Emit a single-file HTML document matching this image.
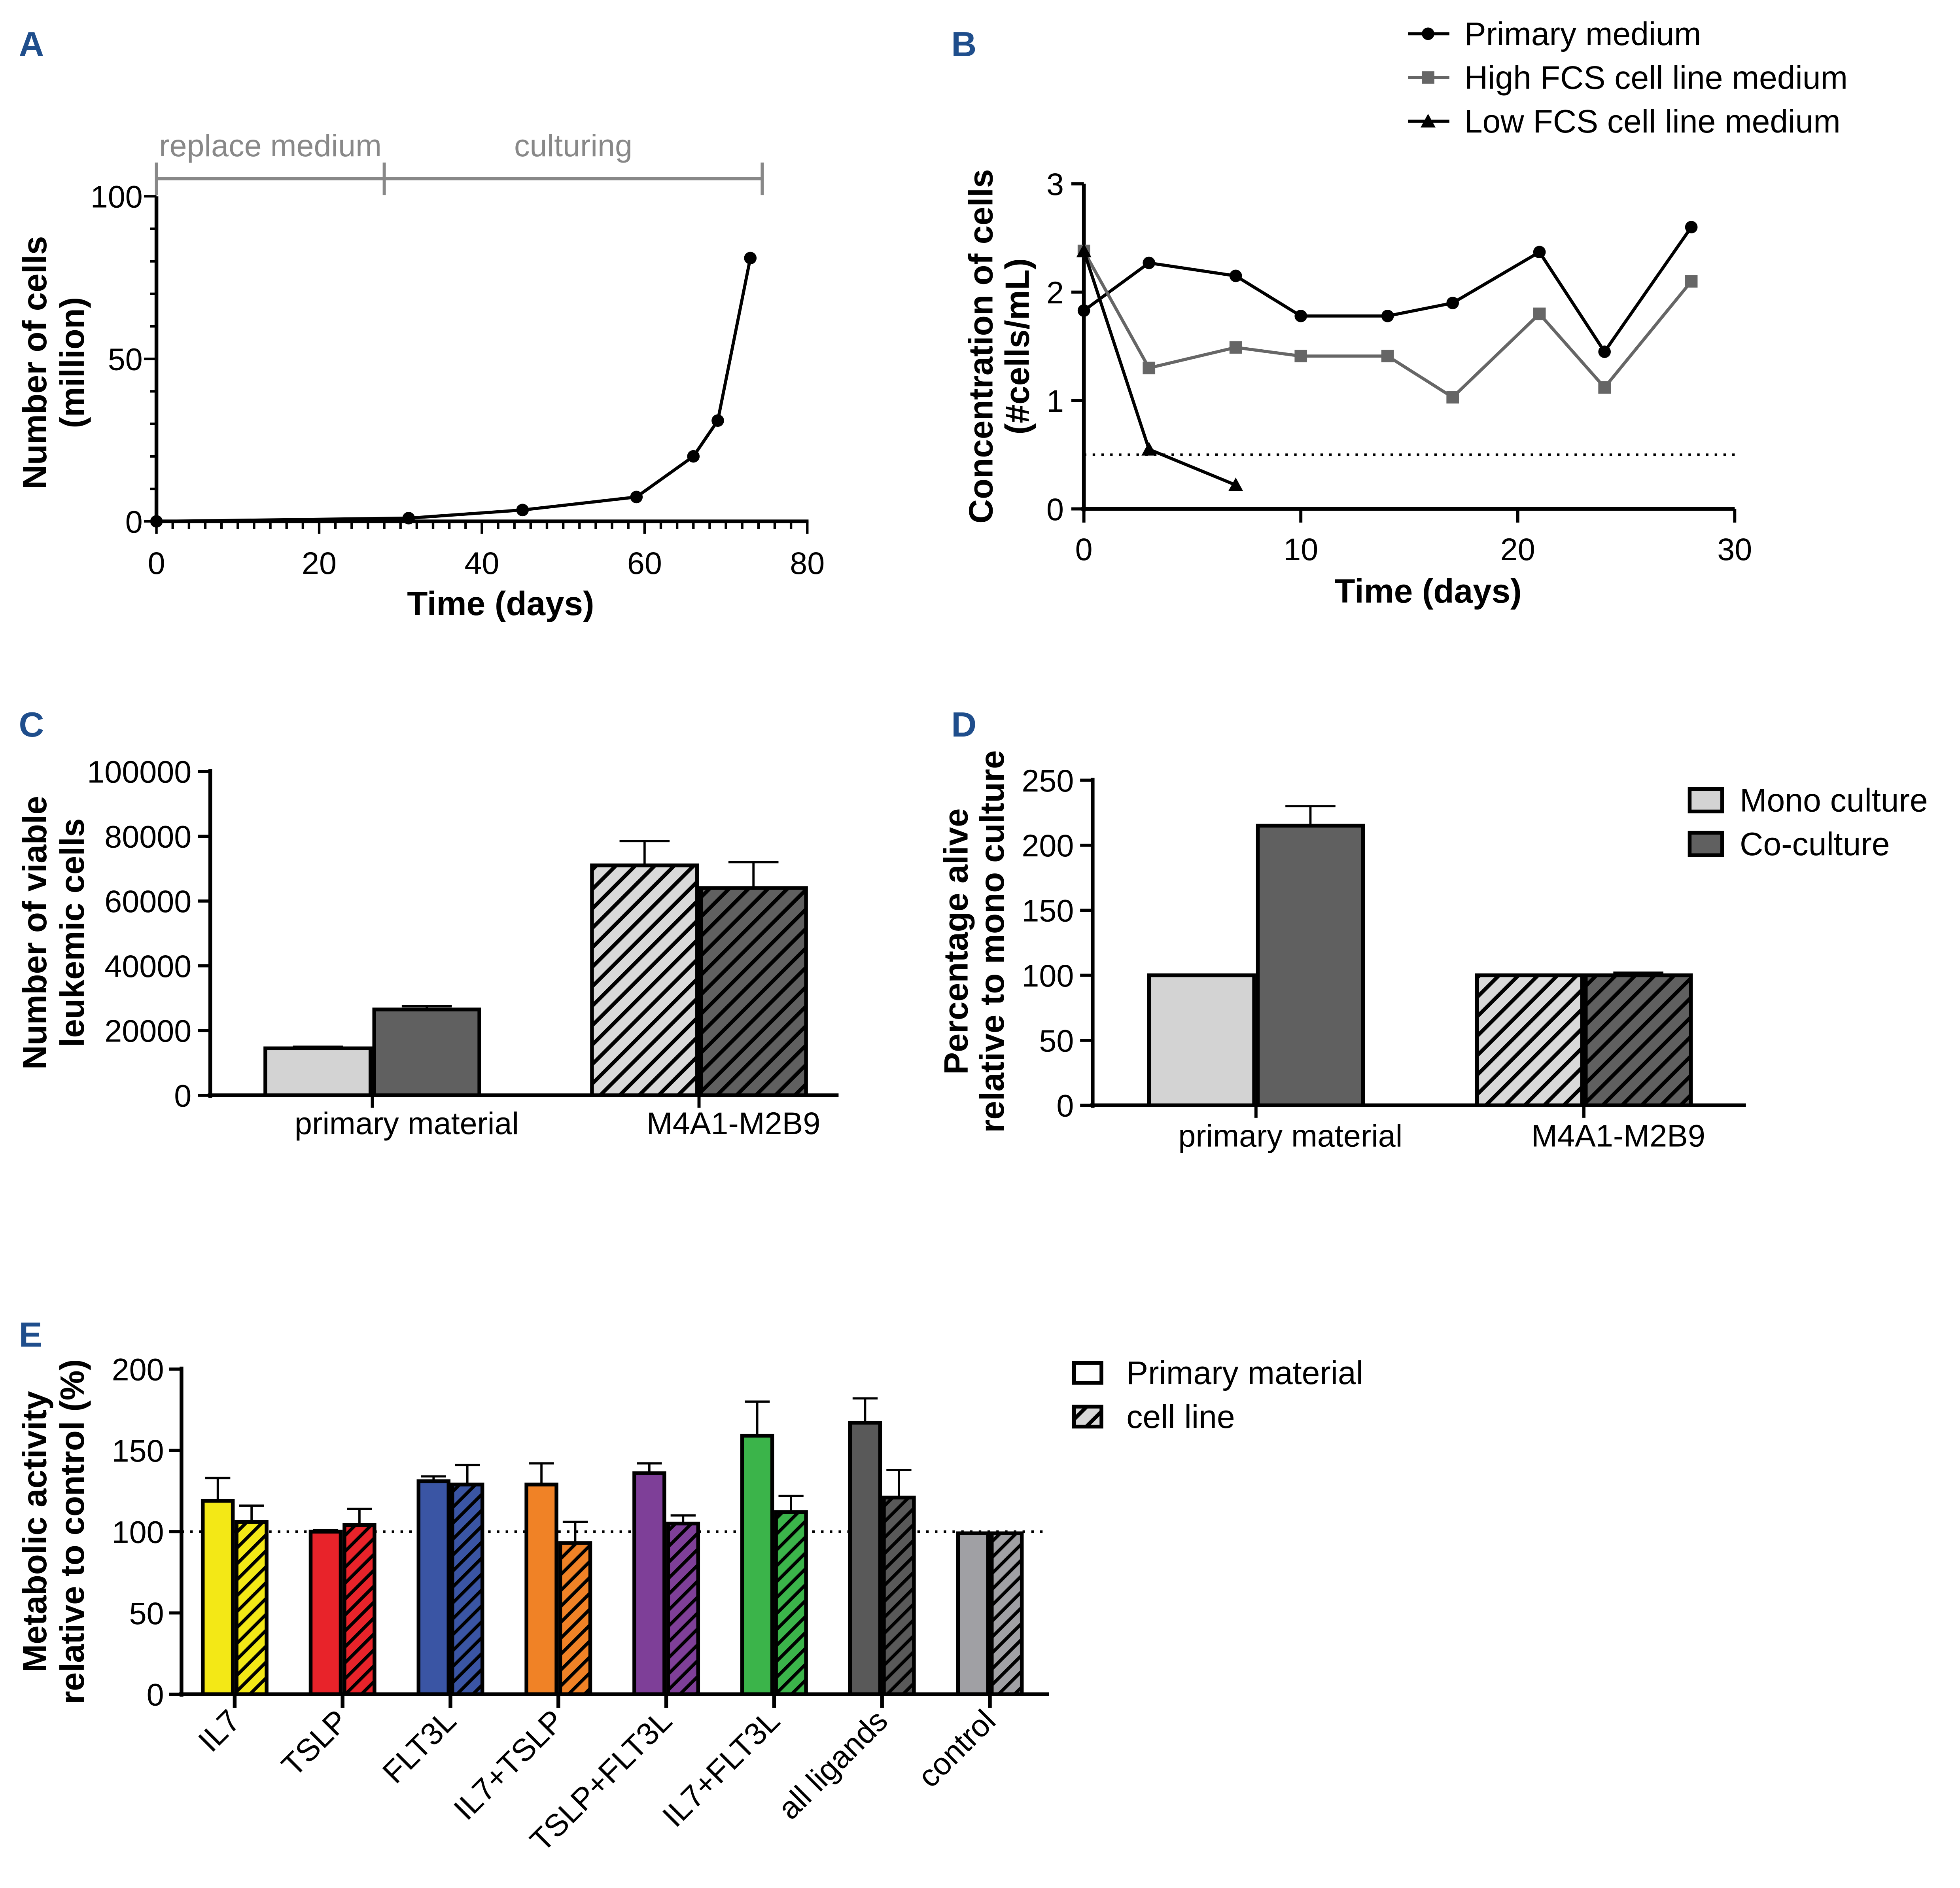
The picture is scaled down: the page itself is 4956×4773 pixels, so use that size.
<!DOCTYPE html>
<html><head><meta charset="utf-8"><style>
html,body{margin:0;padding:0;background:#fff}
svg{display:block}
text{font-family:"Liberation Sans",Arial,sans-serif;fill:#000}
</style></head><body>
<svg id="fig" xmlns="http://www.w3.org/2000/svg" width="4956" height="4773" viewBox="0 0 1566 1510" preserveAspectRatio="none">
<defs>
<pattern id="hl" patternUnits="userSpaceOnUse" width="11" height="11" patternTransform="rotate(45)"><rect width="11" height="11" fill="#d9d9d9"/><rect width="3" height="11" fill="#000"/></pattern>
<pattern id="hd" patternUnits="userSpaceOnUse" width="11" height="11" patternTransform="rotate(45)"><rect width="11" height="11" fill="#606060"/><rect width="3" height="11" fill="#000"/></pattern>
</defs>
<g id="root"></g>
</svg>
<script>
// Panel A data
const aDays=[0,31,45,59,66,69,73];
const aCells=[0,1,3.5,7.5,20,31,81];
const aXTicks=[0,20,40,60,80];
const aYTicks=[0,50,100];
// Panel B data
const bPrimDays=[0,3,7,10,14,17,21,24,28];
const bPrim=[1.83,2.27,2.15,1.78,1.78,1.9,2.37,1.45,2.6];
const bHighDays=[0,3,7,10,14,17,21,24,28];
const bHigh=[2.38,1.3,1.49,1.41,1.41,1.03,1.8,1.12,2.1];
const bLowDays=[0,3,7];
const bLow=[2.38,0.55,0.22];
const bXTicks=[0,10,20,30];
const bYTicks=[0,1,2,3];
// Panel C data
const cCats=["primary material","M4A1-M2B9"];
const cMono=[14500,71000];
const cMonoErr=[15000,78500];
const cCo=[26500,64000];
const cCoErr=[27500,72000];
const cYTicks=[0,20000,40000,60000,80000,100000];
// Panel D data
const dCats=["primary material","M4A1-M2B9"];
const dMono=[100,100];
const dMonoErr=[100,100];
const dCo=[215,100];
const dCoErr=[230,102];
const dYTicks=[0,50,100,150,200,250];
// Panel E data
const eCats=["IL7","TSLP","FLT3L","IL7+TSLP","TSLP+FLT3L","IL7+FLT3L","all ligands","control"];
const ePrim=[119,100,131,129,136,159,167,99];
const ePrimErr=[133,101,134,142,142,180,182,99];
const eCell=[106,104,129,93,105,112,121,99];
const eCellErr=[116,114,141,106,110,122,138,99];
const eColors=["#f3e816","#e8232a","#3a55a4","#f08226","#7e3f98","#3bb44a","#595959","#a0a0a4"];
const eYTicks=[0,50,100,150,200];

const TK=25, TT=27, LG=26;
const NS="http://www.w3.org/2000/svg";
const root=document.getElementById('root');
function mk(tag,attrs,parent){const e=document.createElementNS(NS,tag);for(const k in attrs)e.setAttribute(k,attrs[k]);(parent||root).appendChild(e);return e;}
function txt(s,x,y,size,opts,parent){const e=mk('text',Object.assign({x:x,y:y,'font-size':size},opts||{}),parent);e.textContent=String(s);return e;}
function line(x1,y1,x2,y2,w,col,parent,dash){const a={x1:x1,y1:y1,x2:x2,y2:y2,stroke:col||'#000','stroke-width':w||2.5};if(dash)a['stroke-dasharray']=dash;return mk('line',a,parent);}

[["A",15,45],["B",760,45],["C",15,589],["D",760,589],["E",15,1077]].forEach(p=>{
 const t=txt(p[0],p[1],p[2],28,{'font-weight':'bold'});
 
 
 t.style.fill='#1f4e8c';
});

// ---------- Panel A ----------
(function(){
 const g=mk('g',{});
 
 
 const X=d=>125+d*6.5, Y=v=>417-v*2.6;
 line(125,157,125,419,3,'#000',g);
 line(123,417,646,417,3,'#000',g);
 for(let d=0;d<=80;d+=2){line(X(d),417,X(d),d%20===0?427:423,2,'#000',g);}
 for(let v=0;v<=100;v+=10){line(125,Y(v),v%50===0?115:120,Y(v),2,'#000',g);}
 aXTicks.forEach(t=>{const e=txt(t,X(t),459,TK,{'text-anchor':'middle'},g);
  
  });
 aYTicks.forEach(t=>{const e=txt(t,114,Y(t)+9,TK,{'text-anchor':'end'},g);
  
  });
 const pts=aDays.map((d,i)=>X(d)+','+Y(aCells[i])).join(' ');
 const pl=mk('polyline',{points:pts,fill:'none',stroke:'#000','stroke-width':2.5},g);
 
 
 aDays.forEach((d,i)=>{const c=mk('circle',{cx:X(d),cy:Y(aCells[i]),r:5,fill:'#000'},g);
  
  });
 line(125,143,609,143,2.5,'#888',g);
 [125,307,609].forEach(x=>line(x,130,x,156,2.5,'#888',g));
 let t=txt('replace medium',216,125,TK,{'text-anchor':'middle'},g);t.style.fill='#888';
 
 
 t=txt('culturing',458,125,TK,{'text-anchor':'middle'},g);t.style.fill='#888';
 
 
 t=txt('Time (days)',400,492,TT,{'text-anchor':'middle','font-weight':'bold'},g);
 
 
 t=txt('Number of cells',0,0,TT,{'text-anchor':'middle','font-weight':'bold',transform:'translate(37,290) rotate(-90)'},g);
 
 
 t=txt('(million)',0,0,TT,{'text-anchor':'middle','font-weight':'bold',transform:'translate(67,290) rotate(-90)'},g);
 
 
})();

// ---------- Panel B ----------
(function(){
 const g=mk('g',{});
 
 
 const X=d=>866+d*17.333, Y=v=>407-v*86.67;
 line(866,147,866,409,3,'#000',g);
 line(864,407,1386,407,3,'#000',g);
 bXTicks.forEach(t=>{line(X(t),407,X(t),418,2.5,'#000',g);const e=txt(t,X(t),448,TK,{'text-anchor':'middle'},g);
  
  });
 bYTicks.forEach(t=>{line(856,Y(t),866,Y(t),2.5,'#000',g);const e=txt(t,850,Y(t)+9,TK,{'text-anchor':'end'},g);
  
  });
 line(866,Y(0.5),1386,Y(0.5),2,'#000',g,'2,5');
 const ser=[[bPrimDays,bPrim,'#000','circle','primary-medium'],[bHighDays,bHigh,'#666','square','high-fcs'],[bLowDays,bLow,'#000','tri','low-fcs']];
 function marker(shape,x,y,col,par){
  if(shape==='circle')return mk('circle',{cx:x,cy:y,r:5,fill:col},par);
  if(shape==='square')return mk('rect',{x:x-5,y:y-5,width:10,height:10,fill:col},par);
  return mk('polygon',{points:(x)+','+(y-6)+' '+(x-6)+','+(y+5)+' '+(x+6)+','+(y+5),fill:col},par);
 }
 ser.forEach(s=>{
  const pl=mk('polyline',{points:s[0].map((d,i)=>X(d)+','+Y(s[1][i])).join(' '),fill:'none',stroke:s[2],'stroke-width':2.5},g);
  
  
  s[0].forEach((d,i)=>{const m=marker(s[3],X(d),Y(s[1][i]),s[2],g);
   
   });
 });
 const leg=[['Primary medium','circle','#000',27],['High FCS cell line medium','square','#666',62],['Low FCS cell line medium','tri','#000',97]];
 leg.forEach(l=>{
  const lg=mk('g',{},g);
  
  
  line(1125,l[3],1158,l[3],2.5,l[2],lg);
  marker(l[1],1141,l[3],l[2],lg);
  txt(l[0],1170,l[3]+9,LG,{},lg);
 });
 let t=txt('Time (days)',1141,482,TT,{'text-anchor':'middle','font-weight':'bold'},g);
 
 
 t=txt('Concentration of cells',0,0,TT,{'text-anchor':'middle','font-weight':'bold',transform:'translate(793,277) rotate(-90)'},g);
 
 
 t=txt('(#cells/mL)',0,0,TT,{'text-anchor':'middle','font-weight':'bold',transform:'translate(822,277) rotate(-90)'},g);
 
 
})();

function bar(g,x,w,y0,y1,fill,name){
 const r=mk('rect',{x:x,y:Math.min(y0,y1),width:w,height:Math.abs(y0-y1),fill:fill,stroke:'#000','stroke-width':3},g);
 
 
 return r;
}
function err(g,cx,ytop,yval,hw){
 if(Math.abs(ytop-yval)<0.5)return;
 line(cx,yval,cx,ytop,1.8,'#000',g);
 line(cx-hw,ytop,cx+hw,ytop,1.8,'#000',g);
}

// ---------- Panel C ----------
(function(){
 const g=mk('g',{});
 
 
 const Y=v=>876-v*0.00259;
 line(168,615,168,878,3,'#000',g);
 line(166,876,670,876,3,'#000',g);
 cYTicks.forEach(t=>{line(158,Y(t),168,Y(t),2.5,'#000',g);const e=txt(t,153,Y(t)+9,TK,{'text-anchor':'end'},g);
  
  });
 const gx=[212,473];
 cCats.forEach((c,i)=>{
  const x0=gx[i];
  const fm=i===0?'#d3d3d3':'url(#hl)', fc=i===0?'#606060':'url(#hd)';
  bar(g,x0,84,876,Y(cMono[i]),fm,'c-bar-mono-'+i);
  err(g,x0+42,Y(cMonoErr[i]),Y(cMono[i]),20);
  bar(g,x0+87,84,876,Y(cCo[i]),fc,'c-bar-co-'+i);
  err(g,x0+129,Y(cCoErr[i]),Y(cCo[i]),20);
  line(x0+85.5,876,x0+85.5,886,2.5,'#000',g);
  const e=txt(c,x0+113,907,TK,{'text-anchor':'middle'},g);
  
  
 });
 let t=txt('Number of viable',0,0,TT,{'text-anchor':'middle','font-weight':'bold',transform:'translate(37,746) rotate(-90)'},g);
 
 
 t=txt('leukemic cells',0,0,TT,{'text-anchor':'middle','font-weight':'bold',transform:'translate(67,746) rotate(-90)'},g);
 
 
})();

// ---------- Panel D ----------
(function(){
 const g=mk('g',{});
 
 
 const Y=v=>884-v*1.04;
 line(873,622,873,886,3,'#000',g);
 line(871,884,1395,884,3,'#000',g);
 dYTicks.forEach(t=>{line(863,Y(t),873,Y(t),2.5,'#000',g);const e=txt(t,858,Y(t)+9,TK,{'text-anchor':'end'},g);
  
  });
 const gx=[918,1180];
 dCats.forEach((c,i)=>{
  const x0=gx[i];
  const fm=i===0?'#d3d3d3':'url(#hl)', fc=i===0?'#606060':'url(#hd)';
  bar(g,x0,84,884,Y(dMono[i]),fm,'d-bar-mono-'+i);
  err(g,x0+42,Y(dMonoErr[i]),Y(dMono[i]),20);
  bar(g,x0+87,84,884,Y(dCo[i]),fc,'d-bar-co-'+i);
  err(g,x0+129,Y(dCoErr[i]),Y(dCo[i]),20);
  line(x0+85.5,884,x0+85.5,894,2.5,'#000',g);
  const e=txt(c,x0+113,917,TK,{'text-anchor':'middle'},g);
  
  
 });
 const leg=[['Mono culture','#d3d3d3',640],['Co-culture','#606060',675]];
 leg.forEach(l=>{
  const lg=mk('g',{},g);
  
  
  mk('rect',{x:1350,y:l[2]-9,width:26,height:18,fill:l[1],stroke:'#000','stroke-width':3},lg);
  txt(l[0],1390,l[2]+9,LG,{},lg);
 });
 let t=txt('Percentage alive',0,0,TT,{'text-anchor':'middle','font-weight':'bold',transform:'translate(773,753) rotate(-90)'},g);
 
 
 t=txt('relative to mono culture',0,0,TT,{'text-anchor':'middle','font-weight':'bold',transform:'translate(802,753) rotate(-90)'},g);
 
 
})();

// ---------- Panel E ----------
(function(){
 const g=mk('g',{});
 
 
 const Y=v=>1355-v*1.3;
 const defs=document.querySelector('defs');
 eColors.forEach((c,i)=>{
  const p=mk('pattern',{id:'he'+i,patternUnits:'userSpaceOnUse',width:9,height:9,patternTransform:'rotate(45)'},defs);
  mk('rect',{width:9,height:9,fill:c},p);
  mk('rect',{width:2.6,height:9,fill:'#000'},p);
 });
 line(145,1093,145,1357,3,'#000',g);
 line(143,1355,838,1355,3,'#000',g);
 eYTicks.forEach(t=>{line(135,Y(t),145,Y(t),2.5,'#000',g);const e=txt(t,131,Y(t)+9,TK,{'text-anchor':'end'},g);
  
  });
 line(145,Y(100),838,Y(100),2,'#000',g,'2,5');
 eCats.forEach((c,i)=>{
  const x0=162+i*86.2;
  bar(g,x0,24,1355,Y(ePrim[i]),eColors[i],'e-bar-primary-'+i);
  err(g,x0+12,Y(ePrimErr[i]),Y(ePrim[i]),10);
  bar(g,x0+27,24,1355,Y(eCell[i]),'url(#he'+i+')','e-bar-cellline-'+i);
  err(g,x0+39,Y(eCellErr[i]),Y(eCell[i]),10);
  const cx=x0+25.5;
  line(cx,1355,cx,1366,3,'#000',g);
  const e=txt(c,0,0,TK,{'text-anchor':'end',transform:'translate('+(cx+6)+',1378) rotate(-45)'},g);
  
  
 });
 const leg=[['Primary material','#fff',1098],['cell line','url(#hl)',1133]];
 leg.forEach(l=>{
  const lg=mk('g',{},g);
  
  
  mk('rect',{x:858,y:l[2]-8,width:22,height:16,fill:l[1],stroke:'#000','stroke-width':3},lg);
  txt(l[0],900,l[2]+9,LG,{},lg);
 });
 let t=txt('Metabolic activity',0,0,TT,{'text-anchor':'middle','font-weight':'bold',transform:'translate(37,1225) rotate(-90)'},g);
 
 
 t=txt('relative to control (%)',0,0,TT,{'text-anchor':'middle','font-weight':'bold',transform:'translate(67,1225) rotate(-90)'},g);
 
 
})();
</script>
</body></html>
